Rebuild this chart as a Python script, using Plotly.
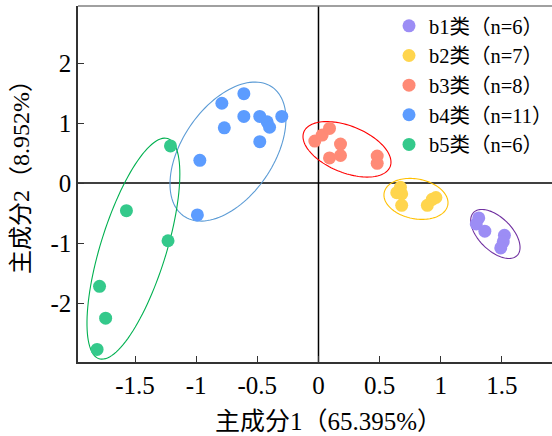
import numpy as np
import plotly.graph_objects as go

# ---- data ----
groups = ["b1类（n=6）", "b2类（n=7）", "b3类（n=8）", "b4类（n=11）", "b5类（n=6）"]

b1_x = [1.31, 1.29, 1.36, 1.52, 1.51, 1.49]
b1_y = [-0.58, -0.68, -0.80, -0.87, -0.98, -1.08]

b2_x = [0.67, 0.68, 0.64, 0.68, 0.89, 0.93, 0.96]
b2_y = [-0.07, -0.18, -0.16, -0.37, -0.37, -0.27, -0.24]

b3_x = [-0.03, 0.03, 0.09, 0.18, 0.09, 0.18, 0.48, 0.48]
b3_y = [0.70, 0.80, 0.91, 0.65, 0.42, 0.46, 0.45, 0.33]

b4_x = [-0.79, -0.61, -0.61, -0.77, -0.48, -0.42, -0.40, -0.30, -0.48, -0.97, -0.99]
b4_y = [1.33, 1.49, 1.11, 0.92, 1.11, 1.02, 0.93, 1.11, 0.69, 0.38, -0.53]

b5_x = [-1.21, -1.57, -1.23, -1.79, -1.74, -1.81]
b5_y = [0.62, -0.46, -0.96, -1.72, -2.25, -2.77]

xs = [b1_x, b2_x, b3_x, b4_x, b5_x]
ys = [b1_y, b2_y, b3_y, b4_y, b5_y]

# ellipse: centre (data units), semi-axes (screen px), angle (deg, screen)
ell_cx = [1.446, 0.797, 0.233, -0.74, -1.513]
ell_cy = [-0.847, -0.263, 0.5625, 0.525, -1.092]
ell_a = [30.6, 32.4, 46.5, 78.2, 115.3]
ell_b = [16.5, 19.9, 23.3, 45.6, 32.8]
ell_ang = [-44.6, -11.1, -22.0, 55.7, 72.7]

x_ticks = [-1.5, -1, -0.5, 0, 0.5, 1, 1.5]
x_ticktext = ["-1.5", "-1", "-0.5", "0", "0.5", "1", "1.5"]
y_ticks = [-2, -1, 0, 1, 2]
y_ticktext = ["-2", "-1", "0", "1", "2"]

x_title = "主成分1（65.395%）"
y_title = "主成分2（8.952%）"

# ---- style ----
marker_colors = ["#9c8df5", "#ffd54d", "#ff8a76", "#5c9cff", "#34c98b"]
ell_colors = ["#7030a0", "#ffc000", "#ff0000", "#5b9bd5", "#00b050"]

W, H = 552, 436
ML, MR, MT, MB = 78, 0, 6, 74
XR = [-1.966, 1.909]
YR = [-2.98, 2.95]
PW, PH = W - ML - MR, H - MT - MB
SX = PW / (XR[1] - XR[0])
SY = PH / (YR[1] - YR[0])

FONT = "Liberation Serif, Times New Roman, Noto Sans CJK SC"

fig = go.Figure()

for name, x, y, c in zip(groups, xs, ys, marker_colors):
    fig.add_trace(go.Scatter(
        x=x, y=y, mode="markers", name=name, legendgroup=name,
        marker=dict(size=13, color=c, line=dict(width=0)),
    ))

shapes = []
t = np.linspace(0, 2 * np.pi, 120)
for cx, cy, a, b, ang, col in zip(ell_cx, ell_cy, ell_a, ell_b, ell_ang, ell_colors):
    th = np.deg2rad(ang)
    px = a * np.cos(t) * np.cos(th) - b * np.sin(t) * np.sin(th)
    py = a * np.cos(t) * np.sin(th) + b * np.sin(t) * np.cos(th)
    ex = cx + px / SX
    ey = cy + py / SY
    path = "M " + " L ".join(f"{u:.4f},{v:.4f}" for u, v in zip(ex, ey)) + " Z"
    shapes.append(dict(type="path", path=path, xref="x", yref="y",
                       line=dict(color=col, width=1.1), layer="below"))

# zero lines
shapes.append(dict(type="line", xref="x", yref="paper", x0=0, x1=0, y0=0, y1=1,
                   line=dict(color="black", width=1.5), layer="below"))
shapes.append(dict(type="line", xref="paper", yref="y", x0=0, x1=1, y0=0, y1=0,
                   line=dict(color="black", width=1.5), layer="below"))
# top frame line
shapes.append(dict(type="line", xref="paper", yref="paper", x0=0, x1=1, y0=1, y1=1,
                   line=dict(color="#808080", width=1.5)))

annotations = [
    dict(text=x_title, xref="paper", yref="paper", x=(328 - ML) / PW, y=(362 - 421.5) / PH,
         xanchor="center", yanchor="middle", showarrow=False,
         font=dict(family=FONT, size=25, color="black")),
    dict(text=y_title, xref="paper", yref="paper", x=(21 - ML) / PW, y=(362 - 171) / PH,
         xanchor="center", yanchor="middle", showarrow=False, textangle=-90,
         font=dict(family=FONT, size=24, color="black")),
]

fig.update_layout(
    width=W, height=H,
    margin=dict(l=ML, r=MR, t=MT, b=MB, autoexpand=False),
    paper_bgcolor="white", plot_bgcolor="white",
    font=dict(family=FONT, color="black", size=22),
    shapes=shapes,
    annotations=annotations,
    showlegend=True,
    legend=dict(x=(389 - ML) / PW, y=1.0, xanchor="left", yanchor="top",
                font=dict(family=FONT, size=20.5, color="black"),
                bgcolor="rgba(0,0,0,0)", tracegroupgap=0, traceorder="grouped",
                itemwidth=30),
    xaxis=dict(range=XR, tickmode="array", tickvals=x_ticks, ticktext=x_ticktext,
               showgrid=False, zeroline=False, showline=True, linecolor="#333333",
               linewidth=1.5, ticks="inside", ticklen=6, tickcolor="#333333",
               tickfont=dict(size=25)),
    yaxis=dict(range=YR, tickmode="array", tickvals=y_ticks, ticktext=y_ticktext,
               showgrid=False, zeroline=False, showline=True, linecolor="#333333",
               linewidth=1.5, ticks="inside", ticklen=6, tickcolor="#333333",
               tickfont=dict(size=25)),
)

post = ("document.body.style.margin='0';"
        "var s=document.createElement('style');"
        "s.textContent='text{text-spacing-trim:space-all;}';"
        "document.head.appendChild(s);")

fig.write_html("out.html", post_script=post, config={"displayModeBar": False})
